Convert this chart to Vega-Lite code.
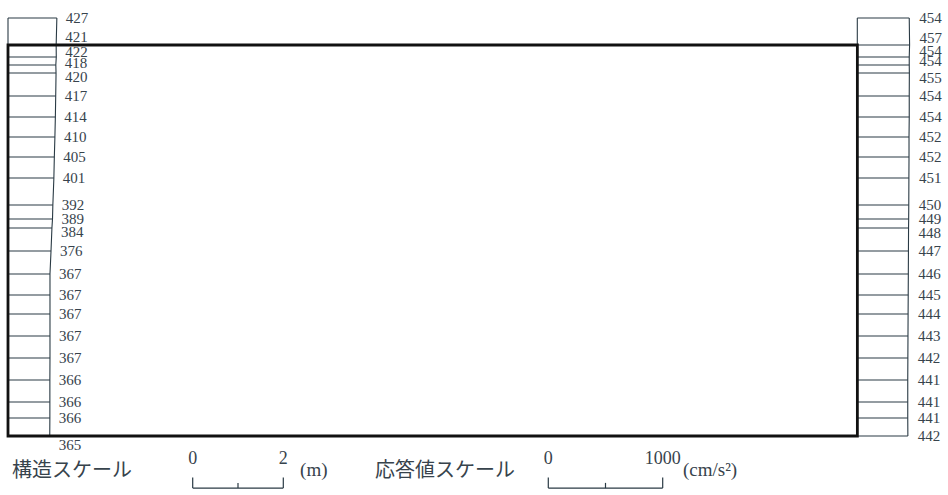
{
  "$schema": "https://vega.github.io/schema/vega-lite/v6.json",
  "width": 948,
  "height": 495,
  "padding": 0,
  "autosize": {"type": "fit", "contains": "padding"},
  "background": "white",
  "config": {"view": {"stroke": null}},
  "datasets": {
    "levels": [
      {"idx": 0, "elev": 9.227, "L": 427, "R": 454},
      {"idx": 1, "elev": 8.631, "L": 421, "R": 457},
      {"idx": 2, "elev": 8.366, "L": 422, "R": 454},
      {"idx": 3, "elev": 8.19, "L": 418, "R": 454},
      {"idx": 4, "elev": 8.013, "L": 420, "R": 455},
      {"idx": 5, "elev": 7.506, "L": 417, "R": 454},
      {"idx": 6, "elev": 7.042, "L": 414, "R": 454},
      {"idx": 7, "elev": 6.6, "L": 410, "R": 452},
      {"idx": 8, "elev": 6.159, "L": 405, "R": 452},
      {"idx": 9, "elev": 5.695, "L": 401, "R": 451},
      {"idx": 10, "elev": 5.099, "L": 392, "R": 450},
      {"idx": 11, "elev": 4.79, "L": 389, "R": 449},
      {"idx": 12, "elev": 4.592, "L": 384, "R": 448},
      {"idx": 13, "elev": 4.084, "L": 376, "R": 447},
      {"idx": 14, "elev": 3.576, "L": 367, "R": 446},
      {"idx": 15, "elev": 3.113, "L": 367, "R": 445},
      {"idx": 16, "elev": 2.693, "L": 367, "R": 444},
      {"idx": 17, "elev": 2.208, "L": 367, "R": 443},
      {"idx": 18, "elev": 1.722, "L": 367, "R": 442},
      {"idx": 19, "elev": 1.236, "L": 366, "R": 441},
      {"idx": 20, "elev": 0.751, "L": 366, "R": 441},
      {"idx": 21, "elev": 0.397, "L": 366, "R": 441},
      {"idx": 22, "elev": 0.0, "L": 365, "R": 442}
    ],
    "structure": [
      {"part": "building", "left": 0, "right": 18.75, "bottom": 0, "top": 8.631}
    ],
    "scalebars": [
      {"bar": "structure", "v": 0, "tick": "end", "label": "0"},
      {"bar": "structure", "v": 1, "tick": "mid", "label": ""},
      {"bar": "structure", "v": 2, "tick": "end", "label": "2"},
      {"bar": "response", "v": 0, "tick": "end", "label": "0"},
      {"bar": "response", "v": 500, "tick": "mid", "label": ""},
      {"bar": "response", "v": 1000, "tick": "end", "label": "1000"}
    ]
  },
  "resolve": {"scale": {"x": "independent"}},
  "layer": [
    {
      "data": {"name": "levels"},
      "layer": [
        {
          "mark": {"type": "rule", "color": "#2a3a44", "strokeWidth": 1.1},
          "encoding": {
            "x": {"field": "L", "type": "quantitative", "scale": {"domain": [-69.93, 8216.78], "nice": false, "zero": false}, "axis": null},
            "x2": {"datum": 0},
            "y": {"field": "elev", "type": "quantitative", "scale": {"domain": [-1.3024, 9.6247], "nice": false, "zero": false}, "axis": null}
          }
        },
        {
          "mark": {"type": "line", "color": "#2a3a44", "strokeWidth": 1.1},
          "encoding": {
            "x": {"field": "L", "type": "quantitative", "scale": {"domain": [-69.93, 8216.78], "nice": false, "zero": false}, "axis": null},
            "y": {"field": "elev", "type": "quantitative", "scale": {"domain": [-1.3024, 9.6247], "nice": false, "zero": false}, "axis": null},
            "order": {"field": "elev", "type": "quantitative"}
          }
        },
        {
          "mark": {"type": "line", "color": "#2a3a44", "strokeWidth": 1.1},
          "encoding": {
            "x": {"datum": 0, "type": "quantitative", "scale": {"domain": [-69.93, 8216.78], "nice": false, "zero": false}, "axis": null},
            "y": {"field": "elev", "type": "quantitative", "scale": {"domain": [-1.3024, 9.6247], "nice": false, "zero": false}, "axis": null},
            "order": {"field": "elev", "type": "quantitative"}
          }
        },
        {
          "transform": [{"filter": "indexof([1,2,3,4,12,22], datum.idx) < 0"}],
          "mark": {"type": "text", "align": "left", "baseline": "middle", "dx": 9, "font": "Liberation Serif", "fontSize": 15, "color": "#37434c"},
          "encoding": {
            "x": {"field": "L", "type": "quantitative", "scale": {"domain": [-69.93, 8216.78], "nice": false, "zero": false}, "axis": null},
            "y": {"field": "elev", "type": "quantitative", "scale": {"domain": [-1.3024, 9.6247], "nice": false, "zero": false}, "axis": null},
            "text": {"field": "L", "type": "quantitative"}
          }
        },
        {
          "transform": [{"filter": "datum.idx == 1"}],
          "mark": {"type": "text", "align": "left", "baseline": "middle", "dx": 9, "dy": -8, "font": "Liberation Serif", "fontSize": 15, "color": "#37434c"},
          "encoding": {
            "x": {"field": "L", "type": "quantitative", "scale": {"domain": [-69.93, 8216.78], "nice": false, "zero": false}, "axis": null},
            "y": {"field": "elev", "type": "quantitative", "scale": {"domain": [-1.3024, 9.6247], "nice": false, "zero": false}, "axis": null},
            "text": {"field": "L", "type": "quantitative"}
          }
        },
        {
          "transform": [{"filter": "datum.idx == 2"}],
          "mark": {"type": "text", "align": "left", "baseline": "middle", "dx": 9, "dy": -5, "font": "Liberation Serif", "fontSize": 15, "color": "#37434c"},
          "encoding": {
            "x": {"field": "L", "type": "quantitative", "scale": {"domain": [-69.93, 8216.78], "nice": false, "zero": false}, "axis": null},
            "y": {"field": "elev", "type": "quantitative", "scale": {"domain": [-1.3024, 9.6247], "nice": false, "zero": false}, "axis": null},
            "text": {"field": "L", "type": "quantitative"}
          }
        },
        {
          "transform": [{"filter": "datum.idx == 3"}],
          "mark": {"type": "text", "align": "left", "baseline": "middle", "dx": 9, "dy": -2, "font": "Liberation Serif", "fontSize": 15, "color": "#37434c"},
          "encoding": {
            "x": {"field": "L", "type": "quantitative", "scale": {"domain": [-69.93, 8216.78], "nice": false, "zero": false}, "axis": null},
            "y": {"field": "elev", "type": "quantitative", "scale": {"domain": [-1.3024, 9.6247], "nice": false, "zero": false}, "axis": null},
            "text": {"field": "L", "type": "quantitative"}
          }
        },
        {
          "transform": [{"filter": "datum.idx == 4 || datum.idx == 12"}],
          "mark": {"type": "text", "align": "left", "baseline": "middle", "dx": 9, "dy": 4, "font": "Liberation Serif", "fontSize": 15, "color": "#37434c"},
          "encoding": {
            "x": {"field": "L", "type": "quantitative", "scale": {"domain": [-69.93, 8216.78], "nice": false, "zero": false}, "axis": null},
            "y": {"field": "elev", "type": "quantitative", "scale": {"domain": [-1.3024, 9.6247], "nice": false, "zero": false}, "axis": null},
            "text": {"field": "L", "type": "quantitative"}
          }
        },
        {
          "transform": [{"filter": "datum.idx == 22"}],
          "mark": {"type": "text", "align": "left", "baseline": "middle", "dx": 9, "dy": 9, "font": "Liberation Serif", "fontSize": 15, "color": "#37434c"},
          "encoding": {
            "x": {"field": "L", "type": "quantitative", "scale": {"domain": [-69.93, 8216.78], "nice": false, "zero": false}, "axis": null},
            "y": {"field": "elev", "type": "quantitative", "scale": {"domain": [-1.3024, 9.6247], "nice": false, "zero": false}, "axis": null},
            "text": {"field": "L", "type": "quantitative"}
          }
        }
      ]
    },
    {
      "data": {"name": "levels"},
      "layer": [
        {
          "mark": {"type": "rule", "color": "#2a3a44", "strokeWidth": 1.1},
          "encoding": {
            "x": {"field": "R", "type": "quantitative", "scale": {"domain": [-7493.9, 792.8], "nice": false, "zero": false}, "axis": null},
            "x2": {"datum": 0},
            "y": {"field": "elev", "type": "quantitative", "scale": {"domain": [-1.3024, 9.6247], "nice": false, "zero": false}, "axis": null}
          }
        },
        {
          "mark": {"type": "line", "color": "#2a3a44", "strokeWidth": 1.1},
          "encoding": {
            "x": {"field": "R", "type": "quantitative", "scale": {"domain": [-7493.9, 792.8], "nice": false, "zero": false}, "axis": null},
            "y": {"field": "elev", "type": "quantitative", "scale": {"domain": [-1.3024, 9.6247], "nice": false, "zero": false}, "axis": null},
            "order": {"field": "elev", "type": "quantitative"}
          }
        },
        {
          "mark": {"type": "line", "color": "#2a3a44", "strokeWidth": 1.1},
          "encoding": {
            "x": {"datum": 0, "type": "quantitative", "scale": {"domain": [-7493.9, 792.8], "nice": false, "zero": false}, "axis": null},
            "y": {"field": "elev", "type": "quantitative", "scale": {"domain": [-1.3024, 9.6247], "nice": false, "zero": false}, "axis": null},
            "order": {"field": "elev", "type": "quantitative"}
          }
        },
        {
          "transform": [{"filter": "indexof([1,2,3,4,12], datum.idx) < 0"}],
          "mark": {"type": "text", "align": "left", "baseline": "middle", "dx": 10, "font": "Liberation Serif", "fontSize": 15, "color": "#37434c"},
          "encoding": {
            "x": {"field": "R", "type": "quantitative", "scale": {"domain": [-7493.9, 792.8], "nice": false, "zero": false}, "axis": null},
            "y": {"field": "elev", "type": "quantitative", "scale": {"domain": [-1.3024, 9.6247], "nice": false, "zero": false}, "axis": null},
            "text": {"field": "R", "type": "quantitative"}
          }
        },
        {
          "transform": [{"filter": "datum.idx == 1"}],
          "mark": {"type": "text", "align": "left", "baseline": "middle", "dx": 10, "dy": -7, "font": "Liberation Serif", "fontSize": 15, "color": "#37434c"},
          "encoding": {
            "x": {"field": "R", "type": "quantitative", "scale": {"domain": [-7493.9, 792.8], "nice": false, "zero": false}, "axis": null},
            "y": {"field": "elev", "type": "quantitative", "scale": {"domain": [-1.3024, 9.6247], "nice": false, "zero": false}, "axis": null},
            "text": {"field": "R", "type": "quantitative"}
          }
        },
        {
          "transform": [{"filter": "datum.idx == 2"}],
          "mark": {"type": "text", "align": "left", "baseline": "middle", "dx": 10, "dy": -6, "font": "Liberation Serif", "fontSize": 15, "color": "#37434c"},
          "encoding": {
            "x": {"field": "R", "type": "quantitative", "scale": {"domain": [-7493.9, 792.8], "nice": false, "zero": false}, "axis": null},
            "y": {"field": "elev", "type": "quantitative", "scale": {"domain": [-1.3024, 9.6247], "nice": false, "zero": false}, "axis": null},
            "text": {"field": "R", "type": "quantitative"}
          }
        },
        {
          "transform": [{"filter": "datum.idx == 3"}],
          "mark": {"type": "text", "align": "left", "baseline": "middle", "dx": 10, "dy": -4, "font": "Liberation Serif", "fontSize": 15, "color": "#37434c"},
          "encoding": {
            "x": {"field": "R", "type": "quantitative", "scale": {"domain": [-7493.9, 792.8], "nice": false, "zero": false}, "axis": null},
            "y": {"field": "elev", "type": "quantitative", "scale": {"domain": [-1.3024, 9.6247], "nice": false, "zero": false}, "axis": null},
            "text": {"field": "R", "type": "quantitative"}
          }
        },
        {
          "transform": [{"filter": "datum.idx == 4 || datum.idx == 12"}],
          "mark": {"type": "text", "align": "left", "baseline": "middle", "dx": 10, "dy": 5, "font": "Liberation Serif", "fontSize": 15, "color": "#37434c"},
          "encoding": {
            "x": {"field": "R", "type": "quantitative", "scale": {"domain": [-7493.9, 792.8], "nice": false, "zero": false}, "axis": null},
            "y": {"field": "elev", "type": "quantitative", "scale": {"domain": [-1.3024, 9.6247], "nice": false, "zero": false}, "axis": null},
            "text": {"field": "R", "type": "quantitative"}
          }
        }
      ]
    },
    {
      "data": {"name": "structure"},
      "mark": {"type": "rect", "fillOpacity": 0, "stroke": "#111111", "strokeWidth": 2.8},
      "encoding": {
        "x": {"field": "left", "type": "quantitative", "scale": {"domain": [-0.1766, 20.7506], "nice": false, "zero": false}, "axis": null},
        "x2": {"field": "right"},
        "y": {"field": "bottom", "type": "quantitative", "scale": {"domain": [-1.3024, 9.6247], "nice": false, "zero": false}, "axis": null},
        "y2": {"field": "top"}
      }
    },
    {
      "data": {"name": "scalebars"},
      "transform": [{"filter": "datum.bar == 'structure'"}],
      "layer": [
        {
          "mark": {"type": "line", "color": "#2a3a44", "strokeWidth": 1.2},
          "encoding": {
            "x": {"field": "v", "type": "quantitative", "scale": {"domain": [-4.2539, 16.6733], "nice": false, "zero": false}, "axis": null},
            "y": {"datum": -1.15, "type": "quantitative", "scale": {"domain": [-1.3024, 9.6247], "nice": false, "zero": false}, "axis": null}
          }
        },
        {
          "transform": [{"filter": "datum.tick == 'end'"}],
          "mark": {"type": "rule", "color": "#2a3a44", "strokeWidth": 1.2},
          "encoding": {
            "x": {"field": "v", "type": "quantitative", "scale": {"domain": [-4.2539, 16.6733], "nice": false, "zero": false}, "axis": null},
            "y": {"datum": -0.915, "type": "quantitative", "scale": {"domain": [-1.3024, 9.6247], "nice": false, "zero": false}, "axis": null},
            "y2": {"datum": -1.15}
          }
        },
        {
          "transform": [{"filter": "datum.tick == 'mid'"}],
          "mark": {"type": "rule", "color": "#2a3a44", "strokeWidth": 1.2},
          "encoding": {
            "x": {"field": "v", "type": "quantitative", "scale": {"domain": [-4.2539, 16.6733], "nice": false, "zero": false}, "axis": null},
            "y": {"datum": -1.035, "type": "quantitative", "scale": {"domain": [-1.3024, 9.6247], "nice": false, "zero": false}, "axis": null},
            "y2": {"datum": -1.15}
          }
        },
        {
          "transform": [{"filter": "datum.label != ''"}],
          "mark": {"type": "text", "align": "center", "baseline": "middle", "font": "Liberation Serif", "fontSize": 18, "color": "#37434c"},
          "encoding": {
            "x": {"field": "v", "type": "quantitative", "scale": {"domain": [-4.2539, 16.6733], "nice": false, "zero": false}, "axis": null},
            "y": {"datum": -0.51, "type": "quantitative", "scale": {"domain": [-1.3024, 9.6247], "nice": false, "zero": false}, "axis": null},
            "text": {"field": "label", "type": "nominal"}
          }
        },
        {
          "transform": [{"filter": "datum.tick == 'mid'"}],
          "mark": {"type": "text", "align": "left", "baseline": "middle", "font": "Noto Sans CJK JP", "fontSize": 20, "color": "#37434c", "text": "構造スケール"},
          "encoding": {
            "x": {"datum": -3.99, "type": "quantitative", "scale": {"domain": [-4.2539, 16.6733], "nice": false, "zero": false}, "axis": null},
            "y": {"datum": -0.773, "type": "quantitative", "scale": {"domain": [-1.3024, 9.6247], "nice": false, "zero": false}, "axis": null}
          }
        },
        {
          "transform": [{"filter": "datum.tick == 'mid'"}],
          "mark": {"type": "text", "align": "left", "baseline": "middle", "font": "Liberation Serif", "fontSize": 19, "color": "#37434c", "text": "(m)"},
          "encoding": {
            "x": {"datum": 2.37, "type": "quantitative", "scale": {"domain": [-4.2539, 16.6733], "nice": false, "zero": false}, "axis": null},
            "y": {"datum": -0.74, "type": "quantitative", "scale": {"domain": [-1.3024, 9.6247], "nice": false, "zero": false}, "axis": null}
          }
        }
      ]
    },
    {
      "data": {"name": "scalebars"},
      "transform": [{"filter": "datum.bar == 'response'"}],
      "layer": [
        {
          "mark": {"type": "line", "color": "#2a3a44", "strokeWidth": 1.2},
          "encoding": {
            "x": {"field": "v", "type": "quantitative", "scale": {"domain": [-4792.8, 3493.9], "nice": false, "zero": false}, "axis": null},
            "y": {"datum": -1.15, "type": "quantitative", "scale": {"domain": [-1.3024, 9.6247], "nice": false, "zero": false}, "axis": null}
          }
        },
        {
          "transform": [{"filter": "datum.tick == 'end'"}],
          "mark": {"type": "rule", "color": "#2a3a44", "strokeWidth": 1.2},
          "encoding": {
            "x": {"field": "v", "type": "quantitative", "scale": {"domain": [-4792.8, 3493.9], "nice": false, "zero": false}, "axis": null},
            "y": {"datum": -0.915, "type": "quantitative", "scale": {"domain": [-1.3024, 9.6247], "nice": false, "zero": false}, "axis": null},
            "y2": {"datum": -1.15}
          }
        },
        {
          "transform": [{"filter": "datum.tick == 'mid'"}],
          "mark": {"type": "rule", "color": "#2a3a44", "strokeWidth": 1.2},
          "encoding": {
            "x": {"field": "v", "type": "quantitative", "scale": {"domain": [-4792.8, 3493.9], "nice": false, "zero": false}, "axis": null},
            "y": {"datum": -1.035, "type": "quantitative", "scale": {"domain": [-1.3024, 9.6247], "nice": false, "zero": false}, "axis": null},
            "y2": {"datum": -1.15}
          }
        },
        {
          "transform": [{"filter": "datum.label != ''"}],
          "mark": {"type": "text", "align": "center", "baseline": "middle", "font": "Liberation Serif", "fontSize": 18, "color": "#37434c"},
          "encoding": {
            "x": {"field": "v", "type": "quantitative", "scale": {"domain": [-4792.8, 3493.9], "nice": false, "zero": false}, "axis": null},
            "y": {"datum": -0.51, "type": "quantitative", "scale": {"domain": [-1.3024, 9.6247], "nice": false, "zero": false}, "axis": null},
            "text": {"field": "label", "type": "nominal"}
          }
        },
        {
          "transform": [{"filter": "datum.tick == 'mid'"}],
          "mark": {"type": "text", "align": "left", "baseline": "middle", "font": "Noto Sans CJK JP", "fontSize": 20, "color": "#37434c", "text": "応答値スケール"},
          "encoding": {
            "x": {"datum": -1515, "type": "quantitative", "scale": {"domain": [-4792.8, 3493.9], "nice": false, "zero": false}, "axis": null},
            "y": {"datum": -0.773, "type": "quantitative", "scale": {"domain": [-1.3024, 9.6247], "nice": false, "zero": false}, "axis": null}
          }
        },
        {
          "transform": [{"filter": "datum.tick == 'mid'"}],
          "mark": {"type": "text", "align": "left", "baseline": "middle", "font": "Liberation Serif", "fontSize": 19, "color": "#37434c", "text": "(cm/s²)"},
          "encoding": {
            "x": {"datum": 1177, "type": "quantitative", "scale": {"domain": [-4792.8, 3493.9], "nice": false, "zero": false}, "axis": null},
            "y": {"datum": -0.74, "type": "quantitative", "scale": {"domain": [-1.3024, 9.6247], "nice": false, "zero": false}, "axis": null}
          }
        }
      ]
    }
  ]
}
